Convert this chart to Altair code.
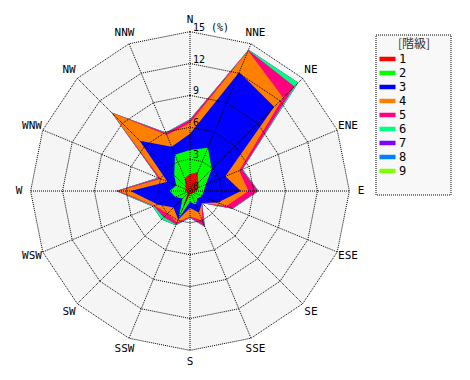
import altair as alt
import pandas as pd
import numpy as np

# ---- data ----
directions = ["N", "NNE", "NE", "ENE", "E", "ESE", "SE", "SSE",
              "S", "SSW", "SW", "WSW", "W", "WNW", "NW", "NNW"]
classes = ["1", "2", "3", "4", "5", "6", "7", "8", "9"]
colors = ["#ff0000", "#00ff00", "#0000ff", "#ff8000", "#ff0080",
          "#00ff80", "#8000ff", "#0080ff", "#80ff00"]

# frequency (%) per class, per direction (N, NNE, ... NNW)
class1 = [1.6, 1.9, 1.1, 0.8, 0.6, 0.4, 0.3, 0.3, 0.3, 2.1, 0.3, 0.3, 0.4, 0.4, 0.6, 1.3]
class2 = [2.25, 2.5, 1.8, 0.8, 0.7, 0.8, 0.7, 1.1, 0.7, 0.7, 0.7, 1.2, 1.5, 1.0, 1.5, 2.4]
class3 = [1.55, 7.7, 8.3, 2.0, 3.5, 1.65, 0.6, 0.8, 0.6, 0.1, 1.2, 1.8, 3.7, 0.9, 4.6, 0.8]
class4 = [1.0, 2.2, 1.2, 1.4, 0.7, 0.85, 0.0, 0.8, 0.8, 0.3, 0.8, 0.3, 1.1, 0.7, 3.7, 1.2]
class5 = [0.3, 0.05, 1.5, 0.3, 0.9, 0.6, 0.0, 0.6, 0.1, 0.2, 0.5, 0.1, 0.2, 0.2, 0.0, 0.2]
class6 = [0.05, 0.05, 0.5, 0.05, 0.05, 0.05, 0.0, 0.05, 0.05, 0.1, 0.3, 0.1, 0.05, 0.05, 0.05, 0.05]
class7 = [0.0] * 16
class8 = [0.0] * 16
class9 = [0.0] * 16

ring_levels = [3, 6, 9, 12, 15]
ring_label_values = [0, 3, 6, 9, 12, 15]
ring_label_texts = ["0", "3", "6", "9", "12", "15 (%)"]

# ---- tables ----
per_class = np.array([class1, class2, class3, class4, class5,
                      class6, class7, class8, class9])
cumulative = np.cumsum(per_class, axis=0)

rows = []
for k, cls in enumerate(classes):
    for i, d in enumerate(directions):
        rows.append({"cls": cls, "k": k, "idx": i, "dir": d,
                     "angle": i * 22.5, "cum": float(cumulative[k, i])})
poly = pd.DataFrame(rows)

grid = pd.DataFrame([{"level": lv, "idx": i, "angle": i * 22.5, "r": lv}
                     for lv in ring_levels for i in range(len(directions))])
spokes = pd.DataFrame([{"idx": i, "angle": i * 22.5, "r": 15, "dir": d}
                       for i, d in enumerate(directions)])
dirlabels = pd.DataFrame([{"idx": i, "angle": i * 22.5, "r": 16.1, "dir": d}
                          for i, d in enumerate(directions)])
ringlab = pd.DataFrame({"v": ring_label_values, "t": ring_label_texts})
dummy = pd.DataFrame({"a": [0]})

FONT = "DejaVu Sans Mono"
sc = alt.Scale(domain=[-16, 16], nice=False, zero=False)
X = lambda f: alt.X(f, type="quantitative", scale=sc, axis=None)
Y = lambda f: alt.Y(f, type="quantitative", scale=sc, axis=None)

def polar(ch, rfield):
    return ch.transform_calculate(
        px=f"datum.{rfield} * sin(datum.angle * PI / 180)",
        py=f"datum.{rfield} * cos(datum.angle * PI / 180)",
    )

# background polygon
bg = polar(alt.Chart(grid), "r").transform_filter("datum.level == 15").mark_line(
    filled=True, interpolate="linear-closed", color="#f5f5f5"
).encode(x=X("px"), y=Y("py"), order=alt.Order("idx:Q"))

color_enc = alt.Color(
    "cls:N",
    scale=alt.Scale(domain=classes, range=colors),
    legend=alt.Legend(
        title=None, orient="none", legendX=360, legendY=30.5,
        symbolType="M-1.07,-0.3H1.07V0.3H-1.07Z", symbolSize=225,
        symbolStrokeWidth=0, labelFont=FONT, labelFontSize=12,
        labelOffset=4, rowPadding=0, padding=0, labelColor="#000000",
    ),
)

layers = [bg]
for k in range(len(classes) - 1, -1, -1):
    layers.append(
        polar(alt.Chart(poly), "cum").transform_filter(f"datum.k == {k}").mark_line(
            filled=True, interpolate="linear-closed"
        ).encode(x=X("px"), y=Y("py"), order=alt.Order("idx:Q"), color=color_enc)
    )

rings = polar(alt.Chart(grid), "r").mark_line(
    interpolate="linear-closed", color="black", strokeWidth=1, strokeDash=[1, 1]
).encode(x=X("px"), y=Y("py"), order=alt.Order("idx:Q"), detail="level:N")

spk = polar(alt.Chart(spokes), "r").transform_calculate(zero="0").mark_rule(
    color="black", strokeWidth=1, strokeDash=[1, 1]
).encode(x=X("zero"), y=Y("zero"), x2="px:Q", y2="py:Q")

dtext = polar(alt.Chart(dirlabels), "r").mark_text(
    font=FONT, fontSize=11, color="black", align="center", baseline="middle"
).encode(x=X("px"), y=Y("py"), text="dir:N")

rtext = alt.Chart(ringlab).transform_calculate(zero="0").mark_text(
    font=FONT, fontSize=10, color="black", align="left", baseline="bottom", dx=3, dy=1
).encode(x=X("zero"), y=Y("v"), text="t:N")

box = alt.Chart(dummy).mark_rect(
    fill="#f8f8f8", stroke="black", strokeWidth=1, strokeDash=[1, 1]
).encode(x=alt.value(356), x2=alt.value(431), y=alt.value(14), y2=alt.value(174))

title = alt.Chart(dummy).mark_text(
    text="[階級]", font="Noto Sans CJK JP", fontSize=12, color="#333333",
    align="center", baseline="middle"
).encode(x=alt.value(394), y=alt.value(23))

layers += [rings, spk, dtext, rtext, box, title]

chart = alt.layer(*layers).properties(
    width=340, height=340,
    padding={"left": 12, "top": 13, "right": 100, "bottom": 10},
    autosize=alt.AutoSizeParams(type="none"),
).configure_view(stroke=None)

chart.save("out.html", embed_options={"renderer": "svg", "actions": False})
